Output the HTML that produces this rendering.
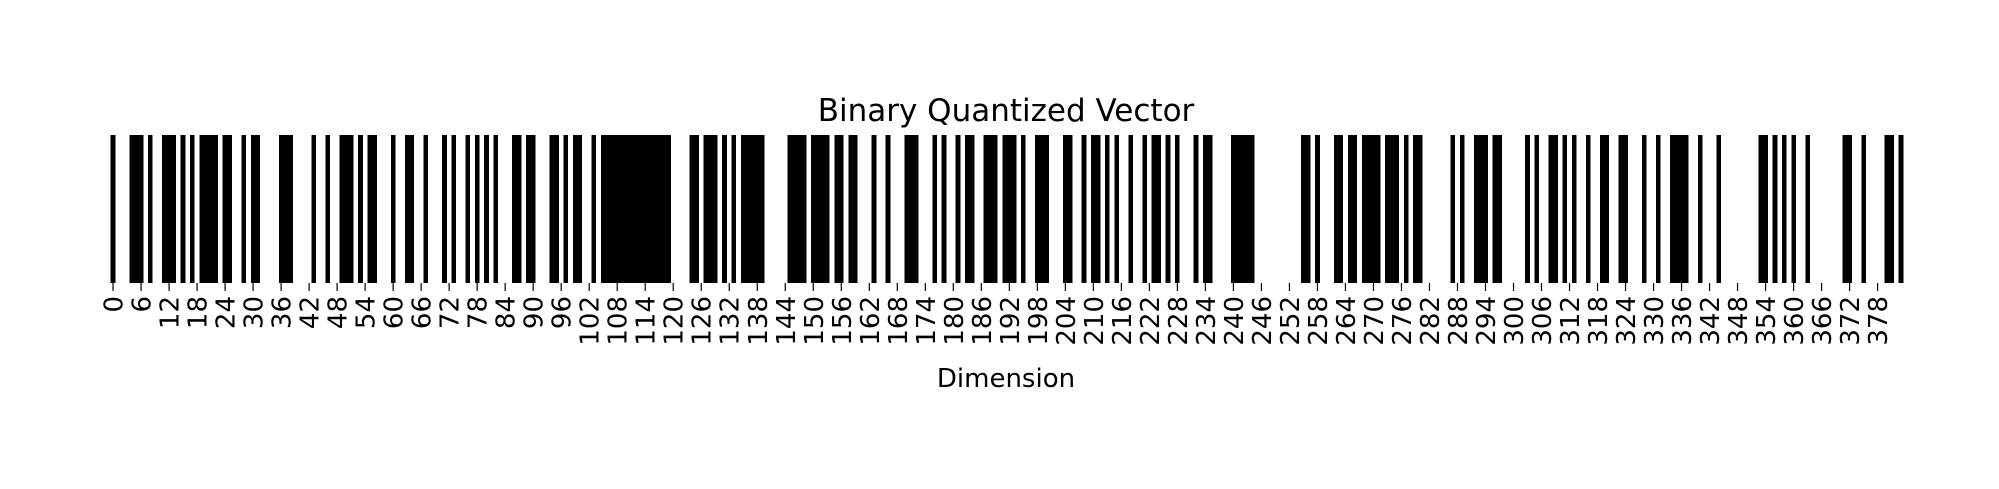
<!DOCTYPE html>
<html>
<head>
<meta charset="utf-8">
<style>
  html, body { margin: 0; padding: 0; background: #ffffff; }
  svg { display: block; }
  text { font-family: "DejaVu Sans", "Liberation Sans", sans-serif; fill: #000; }
</style>
</head>
<body>
<svg id="chart" width="1999" height="489" viewBox="0 0 1999 489" xmlns="http://www.w3.org/2000/svg">
  <rect x="0" y="0" width="1999" height="489" fill="#ffffff"/>
  <text x="1006" y="121" font-size="31" text-anchor="middle">Binary Quantized Vector</text>
  <g id="cells"></g>
  <g id="ticks"></g>
  <text x="1006" y="387" font-size="26" text-anchor="middle">Dimension</text>
</svg>
<script>
// values per dimension (0 = white, 1 = black)
const values = [
  1,0,0,0,1,1,1,0,1,0,0,1,1,1,0,1,
  0,1,0,1,1,1,1,0,1,1,0,0,1,0,1,1,
  0,0,0,0,1,1,1,0,0,0,0,1,0,0,1,0,
  0,1,1,1,0,1,0,1,1,0,0,0,1,0,0,1,
  1,0,0,1,0,0,0,1,0,1,0,0,1,0,1,0,
  1,0,1,0,0,0,1,1,0,1,1,0,0,0,1,1,
  0,1,0,1,1,0,0,1,0,1,1,1,1,1,1,1,
  1,1,1,1,1,1,1,1,0,0,0,0,1,1,0,1,
  1,1,0,1,0,1,0,1,1,1,1,1,0,0,0,0,
  0,1,1,1,1,0,1,1,1,1,0,1,1,0,1,1,
  0,0,0,1,0,0,1,0,0,0,1,1,1,0,0,0,
  1,0,1,0,0,1,0,1,1,0,0,1,1,1,0,1,
  1,1,0,1,0,0,1,1,1,0,0,0,1,1,0,0,
  1,0,1,1,0,1,0,1,0,0,1,0,0,1,0,1,
  1,0,1,0,1,0,0,0,1,0,1,1,0,0,0,0,
  1,1,1,1,1,0,0,0,0,0,0,0,0,0,0,1,
  1,0,1,0,0,0,1,1,0,1,1,0,1,1,1,1,
  0,1,1,1,0,1,0,1,1,0,0,0,0,0,0,1,
  0,1,0,0,1,1,1,0,1,1,0,0,0,0,0,1,
  0,1,0,0,1,1,0,1,0,1,0,0,1,0,0,1,
  1,0,0,1,1,0,0,0,1,0,0,1,0,0,1,1,
  1,1,0,0,1,0,0,0,1,0,0,0,0,0,0,0,
  0,1,1,0,1,0,1,0,1,0,0,1,0,0,0,0,
  0,0,0,1,1,0,0,1,0,0,0,0,1,1,0,1
];
// tick labels every 6 dimensions
const tickLabels = [0,6,12,18,24,30,36,42,48,54,60,66,72,78,84,90,96,102,108,114,120,126,132,138,144,150,156,162,168,174,180,186,192,198,204,210,216,222,228,234,240,246,252,258,264,270,276,282,288,294,300,306,312,318,324,330,336,342,348,354,360,366,372,378];

const NS = 'http://www.w3.org/2000/svg';
const plotLeft = 110.7, plotRight = 1903.3, plotTop = 135, plotBottom = 283;
const n = values.length;
const cw = (plotRight - plotLeft) / n;
function xScale(i) { return plotLeft + i * cw; }

const cells = document.getElementById('cells');
values.forEach(function (v, i) {
  if (v === 1) {
    const r = document.createElementNS(NS, 'rect');
    const nextBlack = (i + 1 < n && values[i + 1] === 1);
    r.setAttribute('x', xScale(i).toFixed(2));
    r.setAttribute('y', plotTop);
    r.setAttribute('width', (cw + (nextBlack ? 0.8 : 0)).toFixed(2));
    r.setAttribute('height', plotBottom - plotTop);
    r.setAttribute('fill', '#000');
    r.setAttribute('shape-rendering', 'crispEdges');
    
    
    cells.appendChild(r);
  }
});

const ticks = document.getElementById('ticks');
tickLabels.forEach(function (t) {
  const cx = xScale(t + 0.5);
  const ln = document.createElementNS(NS, 'line');
  ln.setAttribute('x1', cx); ln.setAttribute('x2', cx);
  ln.setAttribute('y1', plotBottom); ln.setAttribute('y2', plotBottom + 8);
  ln.setAttribute('stroke', '#000'); ln.setAttribute('stroke-width', '1.2');
  
  
  ticks.appendChild(ln);
  const tx = document.createElementNS(NS, 'text');
  tx.setAttribute('transform', 'translate(' + (cx + 9.5).toFixed(2) + ',' + (plotBottom + 13) + ') rotate(-90)');
  tx.setAttribute('text-anchor', 'end');
  tx.setAttribute('font-size', '26');
  tx.textContent = String(t);
  
  
  ticks.appendChild(tx);
});
</script>
</body>
</html>
